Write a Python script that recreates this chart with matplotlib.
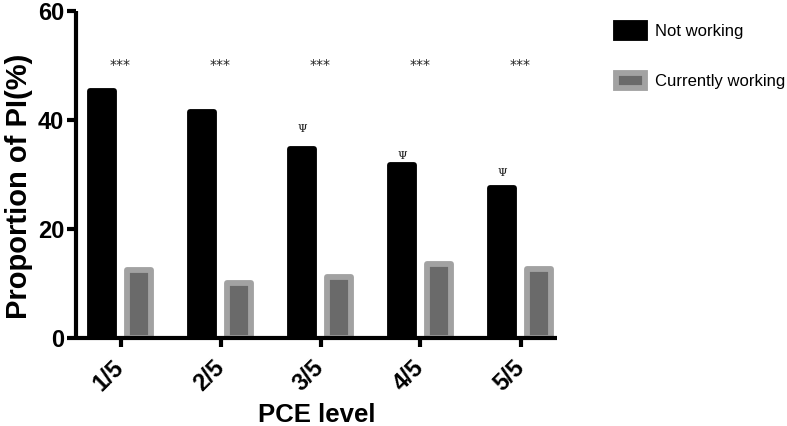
import matplotlib
matplotlib.use("Agg")
import matplotlib.pyplot as plt
import numpy as np

plt.rcParams['font.family'] = ['Liberation Sans', 'DejaVu Sans']

categories = ["1/5", "2/5", "3/5", "4/5", "5/5"]
not_working = [45.3, 41.4, 34.7, 31.7, 27.5]
currently_working = [12.5, 10.1, 11.2, 13.6, 12.7]
star_labels = ["***", "***", "***", "***", "***"]
star_y = [50.0, 50.0, 50.0, 50.0, 50.0]
psi_labels = ["", "", "\u03a8", "\u03a8", "\u03a8"]
psi_y = [0, 0, 38.4, 33.4, 30.3]
y_ticks = [0, 20, 40, 60]

fig = plt.figure(figsize=(7.87, 4.26), dpi=100)
ax = fig.add_axes([76/787, 1 - 338/426, (557-76)/787, (338-11)/426])

x = np.arange(len(categories))
w = 0.24
off = 0.185
ax.bar(x - off, not_working, width=w, color='black', edgecolor='black',
       linewidth=4.2, joinstyle='round', label='Not working', zorder=2)
ax.bar(x + off, currently_working, width=w, color='#6a6a6a', edgecolor='#a2a2a2',
       linewidth=4.2, joinstyle='round', label='Currently working', zorder=2)

for xi, lab, yy in zip(x, star_labels, star_y):
    ax.text(xi, yy, lab, ha='center', va='center', fontsize=10, color='#222222',
            family='DejaVu Sans')
for xi, lab, yy in zip(x, psi_labels, psi_y):
    if lab:
        ax.text(xi - off, yy, lab, ha='center', va='center', fontsize=8,
                color='#222222', family='DejaVu Serif')

ax.set_ylim(0, 60)
ax.set_xlim(-0.445, 4.365)
ax.set_yticks(y_ticks)
ax.set_xticks(x)
ax.set_xticklabels(categories, rotation=45, ha='right', rotation_mode='anchor',
                   va='center')
for s in ['top', 'right']:
    ax.spines[s].set_visible(False)
for s in ['left', 'bottom']:
    ax.spines[s].set_linewidth(3)
    ax.spines[s].set_capstyle('butt')
ax.tick_params(axis='both', width=3, length=6.5, labelsize=17, pad=2)
ax.tick_params(axis='x', pad=12)
for lab in ax.get_yticklabels() + ax.get_xticklabels():
    lab.set_fontweight('bold')

ax.set_ylabel('Proportion of PI(%)', fontsize=21, fontweight='bold')
ax.yaxis.set_label_coords(-0.09, 0.465)
ax.set_xlabel('PCE level', fontsize=18.5, fontweight='bold', labelpad=6)

leg = ax.legend(loc='upper left', bbox_to_anchor=(609/787, 1 - 16/426),
                bbox_transform=fig.transFigure, frameon=False, fontsize=12,
                handlelength=1.75, handleheight=1.0, labelspacing=2.05,
                handletextpad=0.6, borderaxespad=0)

fig.savefig('out.png', dpi=100)
